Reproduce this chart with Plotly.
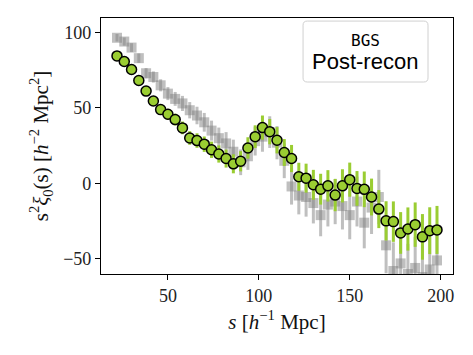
import plotly.graph_objects as go

# separation s [h^-1 Mpc]
s_vals = [22, 26, 30, 34, 38, 42, 46, 50, 54, 58, 62, 66, 70, 74, 78, 82, 86, 90, 94, 98,
          102, 106, 110, 114, 118, 122, 126, 130, 134, 138, 142, 146, 150, 154, 158, 162,
          166, 170, 174, 178, 182, 186, 190, 194, 198]

# Post-recon (green circles)
post_xi = [84.5, 80.8, 75.5, 68.2, 61.2, 54.6, 48.9, 45.8, 42.3, 36.8, 30.1, 28.4, 26.0, 22.3,
           19.5, 16.5, 13.0, 14.7, 23.5, 31.0, 37.0, 34.3, 28.6, 20.5, 16.5, 4.4, 3.5, -0.9,
           -3.8, -1.6, -7.7, -1.6, 2.5, -3.3, -3.9, -9.0, -17.0, -24.8, -25.3, -32.8, -30.2,
           -27.3, -35.4, -31.3, -30.8]
post_err = [2.0, 2.2, 2.4, 2.6, 2.8, 3.0, 3.3, 3.6, 3.9, 4.2, 4.5, 4.8, 5.1, 5.4, 5.7, 6.0,
            6.3, 6.7, 7.1, 7.5, 8.0, 8.4, 8.7, 8.9, 9.0, 9.3, 9.6, 9.9, 10.2, 10.4, 10.7,
            11.0, 11.3, 11.5, 11.8, 12.2, 12.6, 13.0, 13.4, 13.8, 14.3, 14.7, 15.1, 15.5, 15.9]

# Pre-recon (grey squares)
pre_xi = [96.5, 94.0, 90.0, 83.0, 73.0, 70.5, 65.0, 59.5, 56.0, 53.0, 48.5, 45.0, 40.5, 35.0,
          30.0, 26.5, 21.0, 14.0, 18.0, 28.0, 31.0, 34.0, 27.0, 15.0, -2.0, -8.0, -9.0, -13.0,
          -21.0, -14.0, -12.0, -15.0, -21.0, -12.0, -26.0, -16.0, -9.0, -41.0, -58.0, -53.0,
          -60.0, -56.0, -62.0, -57.0, -51.0]
pre_err = [2.5, 2.7, 2.9, 3.1, 3.4, 3.7, 4.0, 4.3, 4.6, 5.0, 5.4, 5.8, 6.2, 6.6, 7.0, 7.5,
           8.0, 8.5, 9.0, 9.5, 10.0, 10.5, 11.0, 11.5, 12.0, 12.5, 13.0, 13.5, 14.0, 14.5,
           15.0, 15.5, 16.0, 16.5, 17.0, 17.5, 18.0, 18.5, 19.0, 19.5, 20.0, 20.5, 21.0, 21.5, 22.0]

x_ticks = [50, 100, 150, 200]
y_ticks = [-50, 0, 50, 100]

GREY = "rgba(128,128,128,0.5)"
GREEN = "#9acd32"

fig = go.Figure()
fig.add_trace(go.Scatter(
    x=s_vals, y=pre_xi, mode="markers",
    marker=dict(symbol="square", size=10, color=GREY, line=dict(width=0)),
    error_y=dict(type="data", array=pre_err, visible=True, thickness=3, width=0, color=GREY),
    showlegend=False,
))
fig.add_trace(go.Scatter(
    x=s_vals, y=post_xi, mode="markers",
    marker=dict(symbol="circle", size=10, color=GREEN, line=dict(color="black", width=1.5)),
    error_y=dict(type="data", array=post_err, visible=True, thickness=3, width=0, color=GREEN),
    showlegend=False,
))

serif = "Liberation Serif"
axis_common = dict(
    showline=True, linecolor="black", linewidth=1.2, mirror=True,
    ticks="outside", ticklen=5, tickwidth=1, tickcolor="black",
    showgrid=False, zeroline=False,
    tickfont=dict(family=serif, size=18, color="#222"),
)

fig.update_layout(
    width=473, height=355,
    margin=dict(l=101, r=20, t=18, b=81),
    paper_bgcolor="white", plot_bgcolor="white",
    xaxis=dict(range=[13.2, 206.8], tickvals=x_ticks, **axis_common,
               title=dict(text="<i>s</i> [<i>h</i><sup>−1</sup> Mpc]",
                          font=dict(family=serif, size=21, color="#111"), standoff=9)),
    yaxis=dict(range=[-60, 109.6], tickvals=y_ticks, **axis_common,
               tickformat="d",
               title=dict(text="s<sup>2</sup><i>ξ</i><sub>0</sub>(s) [<i>h</i><sup>−2</sup> Mpc<sup>2</sup>]",
                          font=dict(family=serif, size=21, color="#111"), standoff=8)),
)

# legend-like box
x0, x1, y0, y1 = 0.574, 0.929, 0.75, 0.988
rx, ry = 0.012, 0.016
path = (f"M {x0+rx},{y0} L {x1-rx},{y0} Q {x1},{y0} {x1},{y0+ry} "
        f"L {x1},{y1-ry} Q {x1},{y1} {x1-rx},{y1} L {x0+rx},{y1} Q {x0},{y1} {x0},{y1-ry} "
        f"L {x0},{y0+ry} Q {x0},{y0} {x0+rx},{y0} Z")
fig.add_shape(type="path", path=path, xref="paper", yref="paper",
              line=dict(color="#d0d0d0", width=1), fillcolor="rgba(255,255,255,0.8)")
fig.add_annotation(x=0.751, y=0.913, xref="paper", yref="paper", text="BGS", showarrow=False,
                   font=dict(family="DejaVu Sans Mono", size=16, color="black"),
                   xanchor="center", yanchor="middle")
fig.add_annotation(x=0.751, y=0.83, xref="paper", yref="paper", text="Post-recon", showarrow=False,
                   font=dict(family="Liberation Sans", size=22, color="black"),
                   xanchor="center", yanchor="middle")

fig.write_html("out.html", config={"displayModeBar": False},
               post_script="document.body.style.margin='0px';")
